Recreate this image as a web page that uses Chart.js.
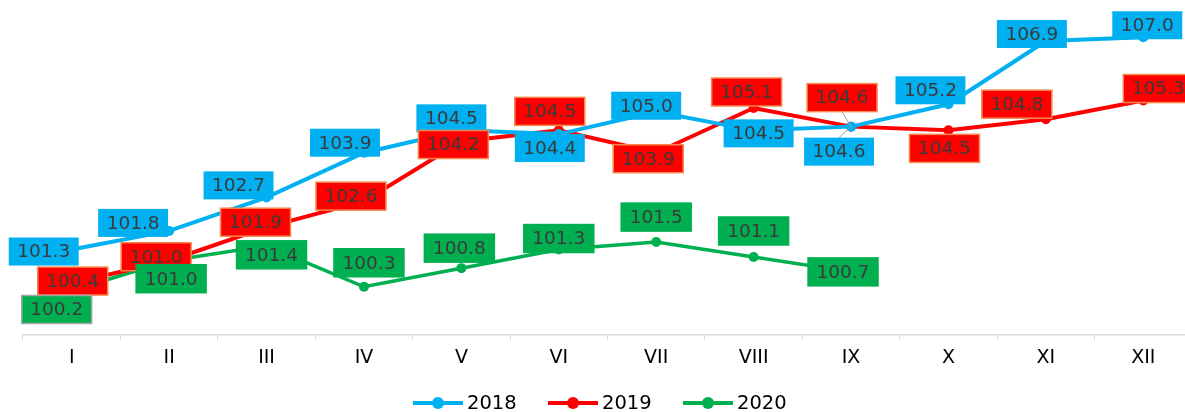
<!DOCTYPE html>
<html>
<head>
<meta charset="utf-8">
<script src="https://cdn.jsdelivr.net/npm/chart.js@4/dist/chart.umd.min.js"></script>
<style>
  html, body { margin: 0; padding: 0; background: #fff; overflow: hidden; }
  #wrap { position: relative; width: 1192px; height: 412px; }
</style>
</head>
<body>
<div id="wrap"><canvas id="chart"></canvas></div>
<script>
'use strict';

var months = ['I', 'II', 'III', 'IV', 'V', 'VI', 'VII', 'VIII', 'IX', 'X', 'XI', 'XII'];
var values2018 = [101.3, 101.8, 102.7, 103.9, 104.5, 104.4, 105.0, 104.5, 104.6, 105.2, 106.9, 107.0];
var values2019 = [100.4, 101.0, 101.9, 102.6, 104.2, 104.5, 103.9, 105.1, 104.6, 104.5, 104.8, 105.3];
var values2020 = [100.2, 101.0, 101.4, 100.3, 100.8, 101.3, 101.5, 101.1, 100.7];
var seriesNames = ['2018', '2019', '2020'];

// where each value box sits, relative to its point (dx, dy, leader line)
var labelOffsets = [
  [[-28, 2], [-36, -8], [-28, -12], [-19, -10], [-10, -12], [-9, 14], [-10, -6], [5, 3], [-12, 25, true], [-18, -14], [-14, -7], [4, -12]],
  [[1, -2], [-13, -4], [-11, -5], [-13, -5], [-8, 3], [-9, -19], [-8, 6], [-7, -16], [-9, -29, true], [-4, 18], [-29, -15], [15, -12]],
  [[-15, 19], [2, 18], [5, 9], [5, -24], [-2, -20], [0, -11], [0, -25], [0, -26], [-8, 0]]
];
var boxBorders = [null, '#F4894B', '#00B050'];

var valueBoxes = {
  id: 'valueBoxes',
  afterDatasetsDraw: function(chart) {
    var ctx = chart.ctx;
    ctx.save();
    ctx.font = '18.5px "DejaVu Sans"';
    ctx.textAlign = 'center';
    ctx.textBaseline = 'middle';
    chart.data.datasets.forEach(function(ds, di) {
      var meta = chart.getDatasetMeta(di);
      meta.data.forEach(function(pt, i) {
        var off = labelOffsets[di][i];
        var cx = pt.x + off[0];
        var cy = pt.y + off[1];
        var txt = ds.data[i].toFixed(1);
        var w = ctx.measureText(txt).width + 17;
        var h = 28;
        if (off[2]) {
          ctx.strokeStyle = '#A6A6A6';
          ctx.lineWidth = 1;
          ctx.beginPath();
          ctx.moveTo(cx, cy + (off[1] > 0 ? -h / 2 : h / 2));
          ctx.lineTo(pt.x, pt.y);
          ctx.stroke();
        }
        ctx.fillStyle = ds.borderColor;
        ctx.fillRect(cx - w / 2, cy - h / 2, w, h);
        var border = boxBorders[di];
        if (di === 2 && i === 0) border = '#A5A5A5';
        if (border) {
          ctx.strokeStyle = border;
          ctx.lineWidth = 1.5;
          ctx.strokeRect(cx - w / 2, cy - h / 2, w, h);
        }
        ctx.fillStyle = '#3A3A3A';
        ctx.fillText(txt, cx, cy + 1);
      });
    });
    ctx.restore();
  },
  afterDraw: function(chart) {
    // legend: line with a dot, then the year
    var ctx = chart.ctx;
    ctx.save();
    ctx.font = '19.5px "DejaVu Sans"';
    ctx.textBaseline = 'middle';
    var y = 403;
    var x = 413;
    chart.data.datasets.forEach(function(ds) {
      ctx.strokeStyle = ds.borderColor;
      ctx.lineWidth = 4;
      ctx.beginPath();
      ctx.moveTo(x, y);
      ctx.lineTo(x + 50, y);
      ctx.stroke();
      ctx.fillStyle = ds.borderColor;
      ctx.beginPath();
      ctx.arc(x + 25, y, 6, 0, Math.PI * 2);
      ctx.fill();
      ctx.fillStyle = '#000';
      ctx.fillText(ds.label, x + 54, y + 1);
      x += 135;
    });
    ctx.restore();
  }
};

function makeSet(name, data, color, width) {
  return {
    label: name,
    data: data,
    borderColor: color,
    backgroundColor: color,
    borderWidth: width,
    pointRadius: 5,
    pointHoverRadius: 5,
    pointBorderWidth: 0,
    tension: 0,
    fill: false
  };
}

var chart = new Chart(document.getElementById('chart'), {
  type: 'line',
  data: {
    labels: months,
    datasets: [
      makeSet(seriesNames[0], values2018, '#00B0F0', 4),
      makeSet(seriesNames[1], values2019, '#FF0000', 4),
      makeSet(seriesNames[2], values2020, '#00B050', 3.5)
    ]
  },
  options: {
    responsive: true,
    maintainAspectRatio: false,
    animation: false,
    layout: { autoPadding: false, padding: { left: 23, right: 0, top: 0, bottom: 37 } },
    plugins: {
      legend: { display: false },
      tooltip: { enabled: false }
    },
    scales: {
      x: {
        offset: true,
        grid: {
          offset: true,
          drawOnChartArea: false,
          drawTicks: true,
          tickLength: 5,
          color: '#D9D9D9'
        },
        border: { color: '#D9D9D9', width: 1.5 },
        ticks: {
          color: '#000',
          padding: 6,
          font: { family: 'DejaVu Sans', size: 19 }
        }
      },
      y: {
        display: false,
        min: 99,
        max: 108
      }
    }
  },
  plugins: [valueBoxes]
});
</script>
</body>
</html>
